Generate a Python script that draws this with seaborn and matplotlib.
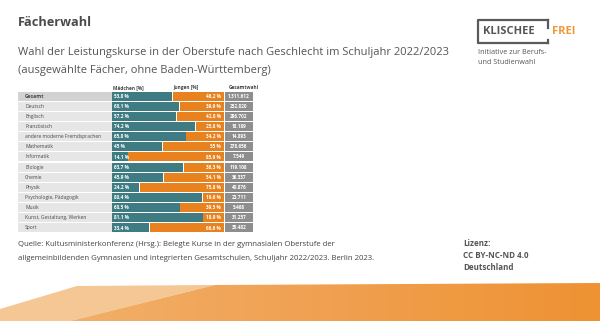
import numpy as np
import pandas as pd
import matplotlib
matplotlib.use("Agg")
import matplotlib.pyplot as plt
from matplotlib.patches import Polygon
from matplotlib.colors import LinearSegmentedColormap
import seaborn as sns

# --- data -------------------------------------------------------------
faecher = ["Gesamt", "Deutsch", "Englisch", "Französisch",
           "andere moderne Fremdsprachen", "Mathematik", "Informatik",
           "Biologie", "Chemie", "Physik", "Psychologie, Pädagogik",
           "Musik", "Kunst, Gestaltung, Werken", "Sport"]
maedchen = [53.8, 60.1, 57.2, 74.2, 65.8, 45.0, 14.1, 63.7, 45.9, 24.2,
            80.4, 60.5, 81.1, 33.4]
jungen = [46.2, 39.9, 42.8, 25.8, 34.2, 55.0, 85.9, 36.3, 54.1, 75.8,
          19.6, 39.5, 18.9, 66.6]
gesamtwahl = [1311612, 252820, 296702, 18189, 14893, 278656, 7549, 119108,
              36337, 40876, 23711, 5468, 31257, 35482]

TEAL = "#3e7b82"
ORANGE = "#e8821f"
GREY_COL = "#8e8e8e"
LABEL_BG = "#e6e6e6"
LABEL_BG_TOTAL = "#d2d2d2"
TEXT = "#555555"

sns.set_theme(style="white")
plt.rcParams["font.family"] = ["Open Sans", "DejaVu Sans"]

W, H = 600, 321
fig = plt.figure(figsize=(W / 100, H / 100), dpi=100)
fig.patch.set_facecolor("white")


def fx(px):
    return px / W


def fy(py):
    return 1 - py / H


# --- header texts -----------------------------------------------------
fig.text(fx(18), fy(22), "Fächerwahl", fontsize=9.2, fontweight="bold",
         color="#4a4a4a", va="center", ha="left")
fig.text(fx(18), fy(52),
         "Wahl der Leistungskurse in der Oberstufe nach Geschlecht im Schuljahr 2022/2023",
         fontsize=8.0, color=TEXT, va="center", ha="left")
fig.text(fx(18), fy(71), "(ausgewählte Fächer, ohne Baden-Württemberg)",
         fontsize=8.0, color=TEXT, va="center", ha="left")

# --- table of stacked bars --------------------------------------------
df = pd.DataFrame({"fach": faecher, "maedchen": maedchen, "jungen": jungen,
                   "gesamt": gesamtwahl})
pos = np.arange(len(faecher))

ax = fig.add_axes([fx(18), fy(233), fx(253) - fx(18), (233 - 91) / H])
XMIN, XMAX = -83.9, 125.9
BAR_H = 0.88

# label column and total column backgrounds
ax.barh(pos, -XMIN, left=XMIN, height=BAR_H,
        color=[LABEL_BG_TOTAL] + [LABEL_BG] * (len(pos) - 1), linewidth=0)
ax.barh(pos, XMAX - 100.8, left=100.8, height=BAR_H, color=GREY_COL,
        linewidth=0)

sns.barplot(data=df, x="maedchen", y="fach", orient="h", color=TEAL,
            width=BAR_H, saturation=1, ax=ax, linewidth=0)
ax.barh(pos, df["jungen"], left=df["maedchen"], height=BAR_H, color=ORANGE,
        linewidth=0)
# thin white split between the two shares
ax.barh(pos, 0.6, left=df["maedchen"], height=BAR_H, color="white",
        linewidth=0)


def pct(v):
    s = f"{v:.1f}".replace(".", ",")
    if s.endswith(",0"):
        s = s[:-2]
    return s + " %"


def thousands(v):
    return f"{v:,}".replace(",", ".")


for i, row in df.iterrows():
    weight = "bold" if i == 0 else "normal"
    ax.text(-77.5, i, row["fach"], fontsize=3.6, color="#4a4a4a",
            va="center", ha="left", fontweight=weight)
    ax.text(2.0, i, pct(row["maedchen"]), fontsize=3.4, color="white",
            va="center", ha="left", fontweight="bold")
    ax.text(97.5, i, pct(row["jungen"]), fontsize=3.4, color="white",
            va="center", ha="right", fontweight="bold")
    ax.text(113.3, i, thousands(row["gesamt"]), fontsize=3.4, color="white",
            va="center", ha="center", fontweight="bold")

hy = -0.88
ax.text(1.0, hy, "Mädchen [%]", fontsize=3.4, color="#444444",
        va="center", ha="left", fontweight="bold")
ax.text(54.5, hy, "Jungen [%]", fontsize=3.4, color="#444444",
        va="center", ha="left", fontweight="bold")
ax.text(104.5, hy, "Gesamtwahl", fontsize=3.4, color="#444444",
        va="center", ha="left", fontweight="bold")

ax.set_xlim(XMIN, XMAX)
ax.set_ylim(len(pos) - 0.5, -0.5)
ax.axis("off")

# --- source and licence -----------------------------------------------
fig.text(fx(18), fy(245),
         "Quelle: Kultusministerkonferenz (Hrsg.): Belegte Kurse in der gymnasialen Oberstufe der",
         fontsize=5.6, color="#444444", va="center", ha="left")
fig.text(fx(18), fy(258),
         "allgemeinbildenden Gymnasien und integrierten Gesamtschulen, Schuljahr 2022/2023. Berlin 2023.",
         fontsize=5.6, color="#444444", va="center", ha="left")
for k, line in enumerate(["Lizenz:", "CC BY-NC-ND 4.0", "Deutschland"]):
    fig.text(fx(463), fy(244 + 12 * k), line, fontsize=5.8,
             fontweight="bold", color="#555555", va="center", ha="left")

# --- logo ---------------------------------------------------------------
ov = fig.add_axes([0, 0, 1, 1], facecolor="none")
ov.set_xlim(0, W)
ov.set_ylim(H, 0)
ov.axis("off")
lc = "#5a5a5a"
lw = 1.6
ov.plot([548, 478, 478, 548], [20, 20, 43, 43], color=lc, lw=lw,
        solid_capstyle="projecting")
ov.plot([548, 548], [20, 28], color=lc, lw=lw, solid_capstyle="projecting")
ov.plot([548, 548], [40, 43], color=lc, lw=lw, solid_capstyle="projecting")
ov.text(483, 32, "KLISCHEE", fontsize=8.0, fontweight="bold", color="#555555",
        va="center", ha="left")
ov.text(552, 32, "FREI", fontsize=8.0, fontweight="bold", color="#f0973a",
        va="center", ha="left")
ov.text(478, 52, "Initiative zur Berufs-", fontsize=5.2, color="#555555",
        va="center", ha="left")
ov.text(478, 62, "und Studienwahl", fontsize=5.2, color="#555555",
        va="center", ha="left")

# --- orange band at the bottom ---------------------------------------
light = Polygon([(0, 309), (77, 286), (215, 285), (70, 321), (0, 321)],
                closed=True, facecolor="#f4c795", edgecolor="none")
ov.add_patch(light)
band = Polygon([(70, 321), (215, 285), (600, 283), (600, 321)], closed=True,
               facecolor="none", edgecolor="none")
ov.add_patch(band)
cmap = LinearSegmentedColormap.from_list("band", ["#f2b06a", "#f0a050",
                                                  "#ee9233"])
grad = np.linspace(0, 1, 256).reshape(1, -1)
im = ov.imshow(grad, cmap=cmap, extent=[60, 600, 321, 282], aspect="auto",
               zorder=1)
im.set_clip_path(band)
ov.set_xlim(0, W)
ov.set_ylim(H, 0)

fig.savefig("out.png", dpi=100, facecolor="white")
